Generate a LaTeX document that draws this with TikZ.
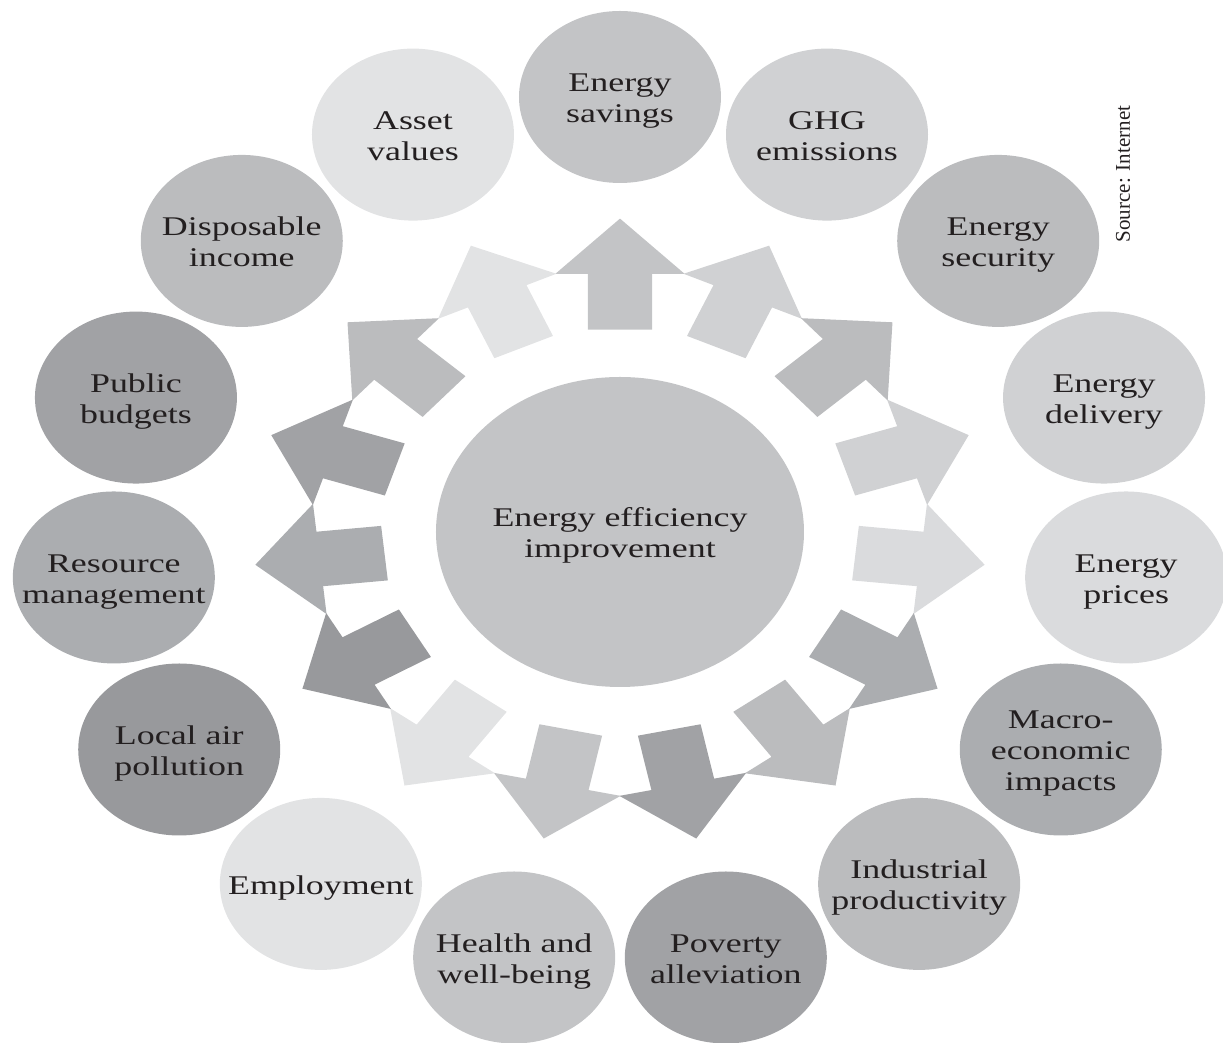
\documentclass[tikz,border=0pt]{standalone}
\usepackage{fontspec}
\setmainfont{Liberation Serif}[FakeStretch=1.33]
\newfontfamily\srcfont{Liberation Serif}
\usetikzlibrary{shapes.geometric}
\usetikzlibrary{shapes.arrows}

\definecolor{ink}{HTML}{231F20}
\definecolor{grA}{HTML}{E2E3E4}
\definecolor{grAA}{HTML}{DADBDD}
\definecolor{grB}{HTML}{D0D1D3}
\definecolor{grC}{HTML}{C3C4C6}
\definecolor{grD}{HTML}{BBBCBE}
\definecolor{grE}{HTML}{ABADB0}
\definecolor{grF}{HTML}{A1A2A5}
\definecolor{grG}{HTML}{98999C}

\newcommand{\lines}[1]{\makebox[0pt]{\raisebox{-2pt}[\height][\depth]{\begin{tabular}{@{}c@{}}#1\end{tabular}}}}

\tikzset{
  bubble/.style={ellipse, minimum width=101pt, minimum height=86pt, inner sep=0pt, text=ink},
  spoke/.style={single arrow, minimum height=55.5pt, minimum width=55pt, inner sep=13.5pt,
    single arrow tip angle=90, single arrow head extend=14pt, anchor=tail, xscale=1.17}
}

\begin{document}
\begin{tikzpicture}[x=0.585pt, y=0.5pt, font=\fontsize{13.5}{15.5}\selectfont]
		\useasboundingbox (-310pt,-255.5pt) rectangle (301.5pt,266pt);
		\node (eff) [bubble, fill=grC, minimum width=184pt, minimum height=155pt] {\lines{Energy efficiency\\improvement}};
		\node (sav) [bubble, fill=grC] at (90:435) {\lines{Energy\\savings}};
		\node (ghg) [bubble, fill=grB] at (66:435) {\lines{GHG\\emissions}};
		\node (sec) [bubble, fill=grD] at (42:435) {\lines{Energy\\security}};
		\node (del) [bubble, fill=grB] at (18:435) {\lines{Energy\\delivery}};
		\node (pri) [bubble, fill=grAA] at (-6:435) {\lines{Energy\\prices}};
		\node (mac) [bubble, fill=grE] at (-30:435) {\lines{Macro-\\economic\\impacts}};
		\node (ind) [bubble, fill=grD] at (-54:435) {\lines{Industrial\\productivity}};
		\node (pov) [bubble, fill=grF] at (-78:435) {\lines{Poverty\\alleviation}};
		\node (hea) [bubble, fill=grC] at (-102:435) {\lines{Health and\\well-being}};
		\node (emp) [bubble, fill=grA] at (-126:435) {\lines{Employment}};
		\node (air) [bubble, fill=grG] at (-150:435) {\lines{Local air\\pollution}};
		\node (res) [bubble, fill=grE] at (-174:435) {\lines{Resource\\management}};
		\node (pub) [bubble, fill=grF] at (162:435) {\lines{Public\\budgets}};
		\node (dis) [bubble, fill=grD] at (138:435) {\lines{Disposable\\income}};
		\node (ass) [bubble, fill=grA] at (114:435) {\lines{Asset\\values}};
		\node (a1) [spoke, fill=grC, rotate=90] at (90:202) {};
		\node (a2) [spoke, fill=grB, rotate=66] at (66:202) {};
		\node (a3) [spoke, fill=grD, rotate=42] at (42:202) {};
		\node (a4) [spoke, fill=grB, rotate=18] at (18:202) {};
		\node (a5) [spoke, fill=grAA, rotate=-6] at (-6:202) {};
		\node (a6) [spoke, fill=grE, rotate=-30] at (-30:202) {};
		\node (a7) [spoke, fill=grD, rotate=-54] at (-54:202) {};
		\node (a8) [spoke, fill=grF, rotate=-78] at (-78:202) {};
		\node (a9) [spoke, fill=grC, rotate=-102] at (-102:202) {};
		\node (a10) [spoke, fill=grA, rotate=-126] at (-126:202) {};
		\node (a11) [spoke, fill=grG, rotate=-150] at (-150:202) {};
		\node (a12) [spoke, fill=grE, rotate=-174] at (-174:202) {};
		\node (a13) [spoke, fill=grF, rotate=162] at (162:202) {};
		\node (a14) [spoke, fill=grD, rotate=138] at (138:202) {};
		\node (a15) [spoke, fill=grA, rotate=114] at (114:202) {};
		\node (src) [rotate=90, text=ink, font=\srcfont\fontsize{10.5}{12}\selectfont] at (251.5pt,179pt) {Source: Internet};
		\end{tikzpicture}
\end{document}
